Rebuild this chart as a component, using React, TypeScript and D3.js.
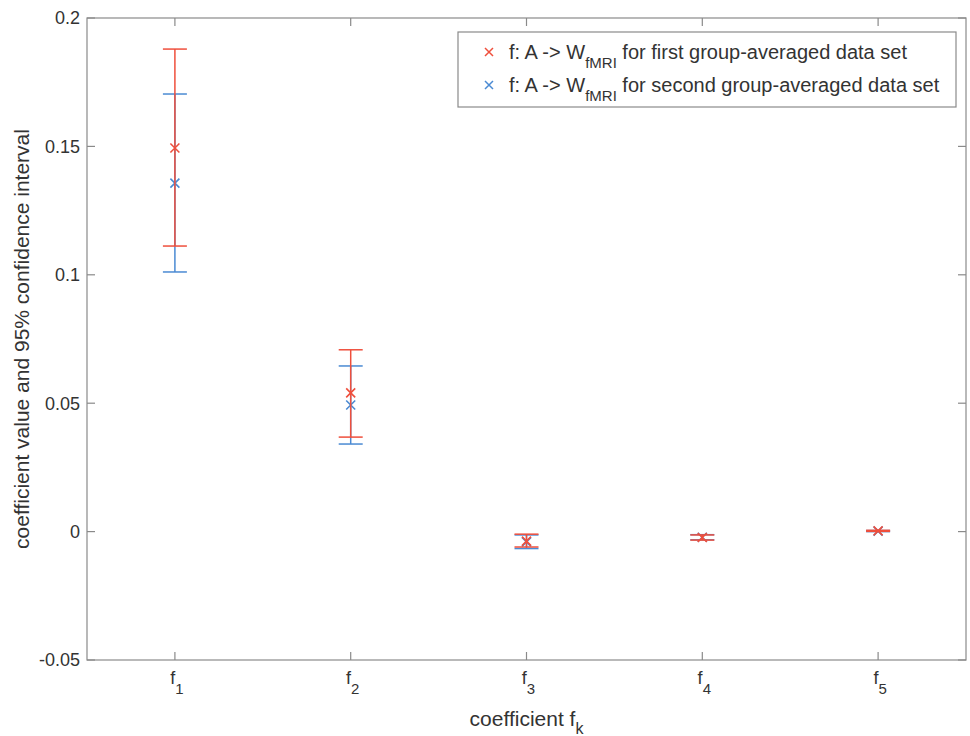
import React, { useEffect, useRef } from 'react';
import * as d3 from 'd3';

const categories = ['1', '2', '3', '4', '5'];
const firstValues = [0.1494, 0.054, -0.0037, -0.0023, 0.0003];
const firstLower = [0.1112, 0.0368, -0.006, -0.0033, 0.0001];
const firstUpper = [0.1879, 0.0708, -0.001, -0.0013, 0.0005];
const secondValues = [0.1357, 0.0493, -0.004, -0.0022, 0.0002];
const secondLower = [0.1011, 0.0341, -0.0066, -0.0032, 0.0];
const secondUpper = [0.1704, 0.0645, -0.0013, -0.0012, 0.0004];
const yTicks = [-0.05, 0, 0.05, 0.1, 0.15, 0.2];

const RED = '#ef4f3c';
const BLUE = '#4a8ad3';

export default function App() {
  const ref = useRef<SVGSVGElement>(null);

  useEffect(() => {
    const svg = d3.select(ref.current);
    svg.selectAll('*').remove();
    const m = { left: 87, right: 966, top: 18, bottom: 660 };
    const font = '"Liberation Sans", Arial, sans-serif';
    const axisColor = '#8a8a8a';
    const textColor = '#333';

    const x = d3.scaleLinear().domain([0.5, 5.5]).range([m.left, m.right]);
    const y = d3.scaleLinear().domain([-0.05, 0.2]).range([m.bottom, m.top]);

    const g = svg.append('g');

    // box
    g.append('rect')
      .attr('x', m.left).attr('y', m.top)
      .attr('width', m.right - m.left).attr('height', m.bottom - m.top)
      .attr('fill', 'none').attr('stroke', axisColor).attr('stroke-width', 1.2);

    const tl = 8;
    // y ticks
    yTicks.forEach((t) => {
      const yy = y(t);
      g.append('line').attr('x1', m.left).attr('x2', m.left + tl).attr('y1', yy).attr('y2', yy)
        .attr('stroke', axisColor).attr('stroke-width', 1.2);
      g.append('line').attr('x1', m.right - tl).attr('x2', m.right).attr('y1', yy).attr('y2', yy)
        .attr('stroke', axisColor).attr('stroke-width', 1.2);
      g.append('text').attr('x', m.left - 7).attr('y', yy).attr('dy', '0.35em')
        .attr('text-anchor', 'end').attr('font-family', font).attr('font-size', 18)
        .attr('fill', textColor).text(String(t));
    });

    // x ticks
    categories.forEach((c, i) => {
      const xx = x(i + 1);
      g.append('line').attr('x1', xx).attr('x2', xx).attr('y1', m.bottom - tl).attr('y2', m.bottom)
        .attr('stroke', axisColor).attr('stroke-width', 1.2);
      g.append('line').attr('x1', xx).attr('x2', xx).attr('y1', m.top).attr('y2', m.top + tl)
        .attr('stroke', axisColor).attr('stroke-width', 1.2);
      const t = g.append('text').attr('x', xx + 2).attr('y', m.bottom + 24)
        .attr('text-anchor', 'middle').attr('font-family', font).attr('font-size', 18)
        .attr('fill', textColor);
      t.append('tspan').text('f');
      t.append('tspan').attr('dy', 10).attr('font-size', 15).text(c);
    });

    // axis labels
    const xl = g.append('text').attr('x', (m.left + m.right) / 2).attr('y', m.bottom + 66)
      .attr('text-anchor', 'middle').attr('font-family', font).attr('font-size', 21).attr('fill', textColor);
    xl.append('tspan').text('coefficient f');
    xl.append('tspan').attr('dy', 8).attr('font-size', 16).text('k');

    g.append('text')
      .attr('transform', `translate(29, ${(m.top + m.bottom) / 2}) rotate(-90)`)
      .attr('text-anchor', 'middle').attr('font-family', font).attr('font-size', 21)
      .attr('fill', textColor).text('coefficient value and 95% confidence interval');

    const cap = 12;
    const drawSeries = (vals: number[], lo: number[], hi: number[], color: string) => {
      vals.forEach((v, i) => {
        const xx = x(i + 1);
        g.append('line').attr('x1', xx).attr('x2', xx).attr('y1', y(lo[i])).attr('y2', y(hi[i]))
          .attr('stroke', color).attr('stroke-width', 1.5);
        [lo[i], hi[i]].forEach((e) => {
          g.append('line').attr('x1', xx - cap).attr('x2', xx + cap).attr('y1', y(e)).attr('y2', y(e))
            .attr('stroke', color).attr('stroke-width', 1.5);
        });
        const s = 4.5;
        const yy = y(v);
        g.append('path')
          .attr('d', `M${xx - s},${yy - s}L${xx + s},${yy + s}M${xx - s},${yy + s}L${xx + s},${yy - s}`)
          .attr('stroke', color).attr('stroke-width', 1.6).attr('fill', 'none');
      });
    };
    drawSeries(secondValues, secondLower, secondUpper, BLUE);
    drawSeries(firstValues, firstLower, firstUpper, RED);

    // legend
    const lg = g.append('g');
    lg.append('rect').attr('x', 458).attr('y', 32).attr('width', 498).attr('height', 75)
      .attr('fill', '#fff').attr('stroke', axisColor).attr('stroke-width', 1.2);
    const entries = [
      { color: RED, label: ' for first group-averaged data set' },
      { color: BLUE, label: ' for second group-averaged data set' },
    ];
    entries.forEach((e, i) => {
      const cy = 52 + i * 33;
      const cx = 489;
      const s = 4;
      lg.append('path')
        .attr('d', `M${cx - s},${cy - s}L${cx + s},${cy + s}M${cx - s},${cy + s}L${cx + s},${cy - s}`)
        .attr('stroke', e.color).attr('stroke-width', 1.5).attr('fill', 'none');
      const t = lg.append('text').attr('x', 509).attr('y', cy + 7)
        .attr('font-family', font).attr('font-size', 20).attr('fill', textColor);
      t.append('tspan').text('f: A -> W');
      t.append('tspan').attr('dy', 9).attr('font-size', 15).text('fMRI');
      t.append('tspan').attr('dy', -9).text(e.label);
    });
  }, []);

  return (
    <svg ref={ref} width={970} height={736} style={{ position: 'absolute', left: 0, top: 0, background: '#fff' }} />
  );
}
